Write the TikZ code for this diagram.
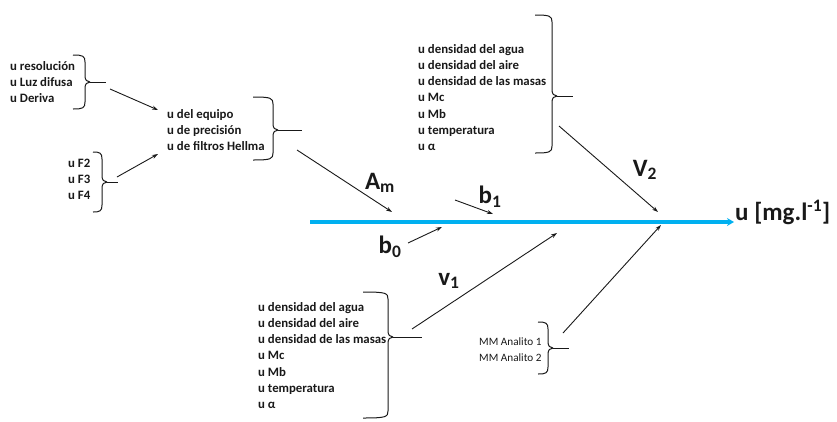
\documentclass[tikz,border=0pt]{standalone}
\usepackage{fontspec}
\setmainfont{Carlito}
\usetikzlibrary{arrows.meta}
\definecolor{fishblue}{RGB}{0,176,240}
\definecolor{ink}{RGB}{25,25,25}
% right curly brace: #1 body x, #2 top y, #3 bottom y, #4 tip y, #5 hook length
\newcommand{\mybrace}[5]{%
  \draw[brcline] ({#1-#5},#2) .. controls ({#1-2},#2) and (#1,{#2+1}) .. (#1,{#2+7})
     -- (#1,{#4-6}) .. controls (#1,{#4-2}) and ({#1+2},#4) .. ({#1+5},#4);
  \draw[brcline] ({#1-#5},#3) .. controls ({#1-2},#3) and (#1,{#3-1}) .. (#1,{#3-7})
     -- (#1,{#4+6}) .. controls (#1,{#4+2}) and ({#1+2},#4) .. ({#1+5},#4);
}
\begin{document}
\begin{tikzpicture}[x=1pt,y=-1pt,
  lst/.style={inner sep=0pt, anchor=base west, align=left, text=ink, font=\bfseries\fontsize{12.8}{16.3}\selectfont},
  mmlst/.style={inner sep=0pt, anchor=base west, align=left, text=ink, font=\fontsize{11.2}{16}\selectfont},
  big/.style={inner sep=0pt, text=ink, font=\bfseries\fontsize{25}{29}\selectfont},
  brcline/.style={draw=ink, line width=1pt},
  tickline/.style={draw=ink, line width=1pt},
  arr/.style={draw=ink, line width=0.9pt, -{Stealth[length=6pt,width=4pt]}},
]
\useasboundingbox (0,0) rectangle (837,421);

% text groups (anchored at the baseline of their last line)
\node[lst] (g1) at (10,102.6) {u resolución\\u Luz difusa\\u Deriva};
\node[lst] (g2) at (68,199.6) {u F2\\u F3\\u F4};
\node[lst] (g3) at (167,150.6) {u del equipo\\u de precisión\\u de filtros Hellma};
\node[lst] (g4) at (418,150.8) {u densidad del agua\\u densidad del aire\\u densidad de las masas\\u Mc\\u Mb\\u temperatura\\u α};
\node[lst] (g5) at (258,408.8) {u densidad del agua\\u densidad del aire\\u densidad de las masas\\u Mc\\u Mb\\u temperatura\\u α};
\node[mmlst] (g6) at (479,361) {MM Analito 1\\MM Analito 2};

% braces
\mybrace{85}{55}{109}{82}{12}
\mybrace{102}{152}{212}{182}{9}
\mybrace{273}{97}{160}{130}{20}
\mybrace{552}{15}{153}{96}{17}
\mybrace{388}{292}{418}{337}{25}
\mybrace{548}{322}{374}{348}{10}

% brace tips and tick ends
\coordinate (t1) at (90,82);   \coordinate (e1) at (106,82);
\coordinate (t2) at (107,182); \coordinate (e2) at (118,182);
\coordinate (t3) at (278,130); \coordinate (e3) at (302,130);
\coordinate (t4) at (557,96);  \coordinate (e4) at (573,96);
\coordinate (t5) at (393,337); \coordinate (e5) at (422,337);
\coordinate (t6) at (553,348); \coordinate (e6) at (569,348);
\foreach \i in {1,...,6} \draw[tickline] (t\i) -- (e\i);

% main spine
\coordinate (s0) at (310,222);
\coordinate (s1) at (734,222);
\draw[line width=3.6pt, fishblue, -{Stealth[length=7pt,width=8pt]}] (s0) -- (s1);
\node[big, anchor=west] (out) at (735,212) {u [mg.l\textsuperscript{-1}]};

% arrow endpoints
\coordinate (a1s) at (110,89);  \coordinate (a1e) at (158,110);
\coordinate (a2s) at (117,177); \coordinate (a2e) at (158,154);
\coordinate (ams) at (297,150); \coordinate (ame) at (392,212);
\coordinate (b1s) at (455,200); \coordinate (b1e) at (493,214);
\coordinate (b0s) at (408,243); \coordinate (b0e) at (442,227);
\coordinate (v1s) at (412,329); \coordinate (v1e) at (557,233);
\coordinate (v2s) at (559,126); \coordinate (v2e) at (658,212);
\coordinate (mms) at (563,333); \coordinate (mme) at (661,225);

\draw[arr] (a1s) -- (a1e);
\draw[arr] (a2s) -- (a2e);
\draw[arr] (ams) -- (ame);
\draw[arr] (b1s) -- (b1e);
\draw[arr] (b0s) -- (b0e);
\draw[arr] (v1s) -- (v1e);
\draw[arr] (v2s) -- (v2e);
\draw[arr] (mms) -- (mme);

% labels
\node[big] (lam) at (380,183) {A\textsubscript{m}};
\node[big] (lb1) at (490,197) {b\textsubscript{1}};
\node[big] (lb0) at (390,247) {b\textsubscript{0}};
\node[big] (lv1) at (449,281) {v\textsubscript{1}};
\node[big] (lv2) at (645,170) {V\textsubscript{2}};
\end{tikzpicture}
\end{document}
